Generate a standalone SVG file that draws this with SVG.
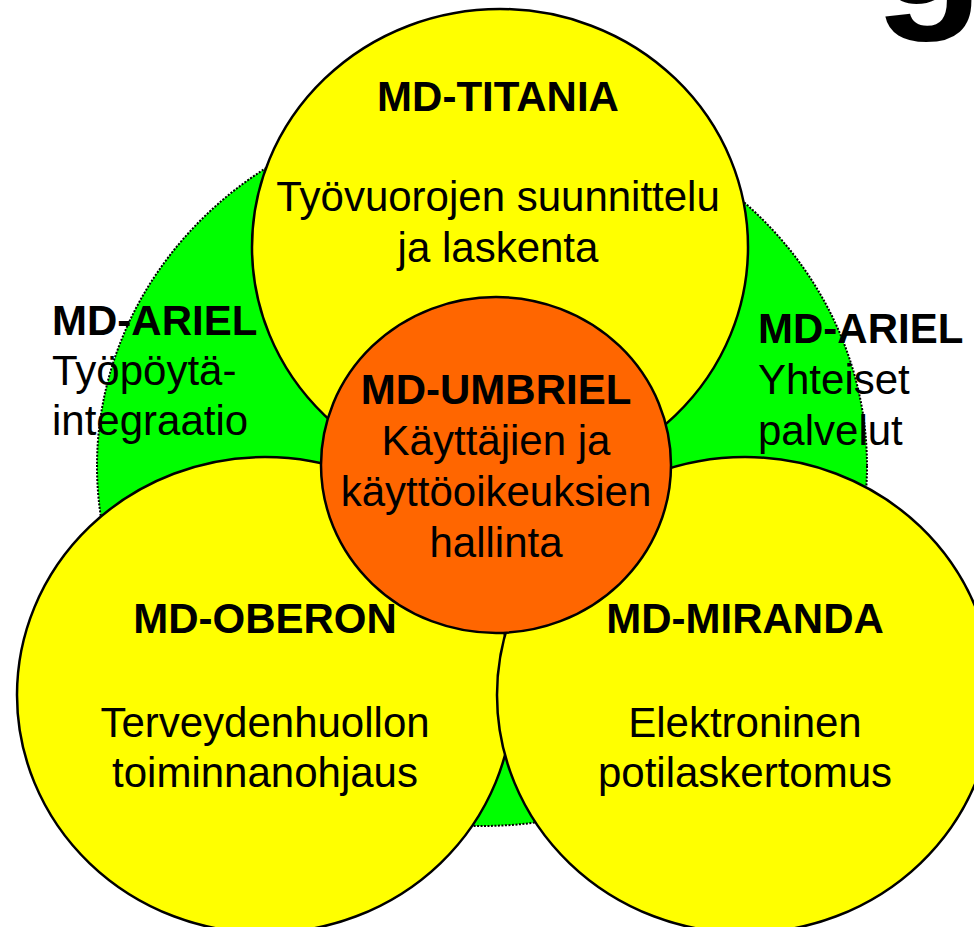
<svg xmlns="http://www.w3.org/2000/svg" width="974" height="927" viewBox="0 0 974 927">
<style>
.y{fill:#ffff00;stroke:#000;stroke-width:2.5}
.o{fill:#ff6600;stroke:#000;stroke-width:2.5}
.g{fill:#00ff00;stroke:#000;stroke-width:2;stroke-dasharray:2 1.5}
text{font-family:"Liberation Sans",Arial,sans-serif;font-size:42px;fill:#000}
.b{font-weight:bold}
.c{text-anchor:middle}
</style>
<rect width="974" height="927" fill="#fff"/>
<text class="b" x="874" y="4" style="font-size:180px">g</text>
<g id="ariel">
<ellipse class="g" cx="482" cy="466" rx="385" ry="360"/>
</g>
<g id="titania">
<ellipse class="y" cx="500" cy="247" rx="248" ry="238"/>
<text class="b c" x="498" y="111">MD-TITANIA</text>
<text class="c" x="498" y="211">Työvuorojen suunnittelu</text>
<text class="c" x="498" y="262">ja laskenta</text>
</g>
<g id="oberon">
<ellipse class="y" cx="265" cy="695" rx="248" ry="238"/>
<text class="b c" x="265" y="633">MD-OBERON</text>
<text class="c" x="265" y="737">Terveydenhuollon</text>
<text class="c" x="265" y="787">toiminnanohjaus</text>
</g>
<g id="miranda">
<ellipse class="y" cx="745" cy="695" rx="248" ry="238"/>
<text class="b c" x="745" y="633">MD-MIRANDA</text>
<text class="c" x="745" y="737">Elektroninen</text>
<text class="c" x="745" y="787">potilaskertomus</text>
</g>
<g id="umbriel">
<ellipse class="o" cx="496" cy="465" rx="175" ry="168"/>
<text class="b c" x="496" y="404">MD-UMBRIEL</text>
<text class="c" x="496" y="455">Käyttäjien ja</text>
<text class="c" x="496" y="506">käyttöoikeuksien</text>
<text class="c" x="496" y="557">hallinta</text>
</g>
<g id="ariel-left">
<text class="b" x="52" y="335">MD-ARIEL</text>
<text x="52" y="385">Työpöytä-</text>
<text x="52" y="435">integraatio</text>
</g>
<g id="ariel-right">
<text class="b" x="758" y="343">MD-ARIEL</text>
<text x="758" y="394">Yhteiset</text>
<text x="758" y="445">palvelut</text>
</g>
<g id="connectors"/>
</svg>
